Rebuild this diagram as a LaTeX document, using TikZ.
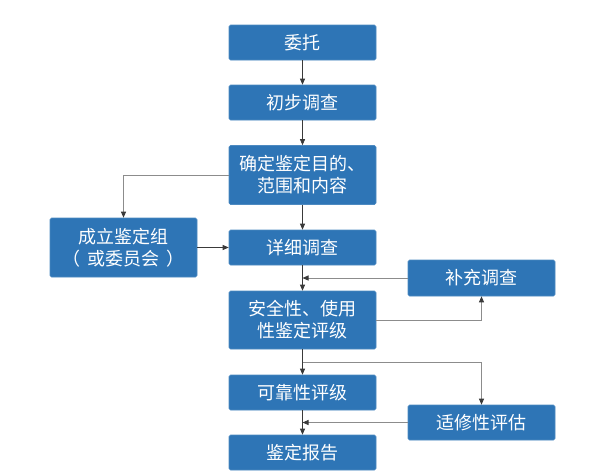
\documentclass[tikz,border=0pt]{standalone}
\usepackage{fontspec}
\setmainfont{Noto Sans CJK SC}
\usetikzlibrary{arrows.meta,calc}
\definecolor{boxblue}{HTML}{2E75B6}
\definecolor{mainline}{HTML}{3A3A3A}
\definecolor{sideline}{HTML}{8C8C8C}
\begin{document}
\begin{tikzpicture}[x=1pt,y=-1pt,
  box/.style={draw=boxblue!85!white, line width=0.6pt, fill=boxblue, rounded corners=1.5pt,
    text=white, minimum width=147pt, inner sep=0pt, align=center,
    font=\fontsize{18}{22}\selectfont},
  mainarrow/.style={draw=mainline, line width=0.7pt, -{Triangle[length=6pt,width=5pt]}},
  sidearrow/.style={draw=sideline, line width=0.9pt, -{Triangle[length=6pt,width=5pt,color=mainline]}}]
\useasboundingbox (0,0) rectangle (594,475);
\node[box, minimum height=35pt] (wt) at (302.5,42.5) {委托};
\node[box, minimum height=35pt] (cb) at (302.5,102.5) {初步调查};
\node[box, minimum height=59pt] (qd) at (302.5,175) {确定鉴定目的、\\范围和内容};
\node[box, minimum height=59pt] (cl) at (123.5,247.5) {成立鉴定组\\（\hspace{7pt}或委员会\hspace{7pt}）};
\node[box, minimum height=35pt] (xx) at (302.5,247.5) {详细调查};
\node[box, minimum height=36pt] (bc) at (481.5,278) {补充调查};
\node[box, minimum height=58pt] (aq) at (302.5,320) {安全性、使用\\性鉴定评级};
\node[box, minimum height=35pt] (kk) at (302.5,392.5) {可靠性评级};
\node[box, minimum height=35pt] (xs) at (481.5,422.5) {适修性评估};
\node[box, minimum height=35pt] (jd) at (302.5,452.5) {鉴定报告};
\coordinate (bcin) at (bc.west -| xx.south);
\coordinate (xsin) at (xs.west -| kk.south);
\coordinate (split) at ($(aq.south)+(0,13)$);
\draw[mainarrow] (wt) -- (cb);
\draw[mainarrow] (cb) -- (qd);
\draw[sidearrow] (qd.west) -| (cl.north);
\draw[mainarrow] (qd) -- (xx);
\draw[mainarrow] (cl.east) -- (xx.west);
\draw[mainarrow] (xx) -- (aq);
\draw[sidearrow] (bc.west) -- (bcin);
\draw[sidearrow] (aq.east) -| (bc.south);
\draw[mainarrow] (aq) -- (kk);
\draw[sidearrow] (split) -| (xs.north);
\draw[mainarrow] (kk) -- (jd);
\draw[sidearrow] (xs.west) -- (xsin);
\end{tikzpicture}
\end{document}
